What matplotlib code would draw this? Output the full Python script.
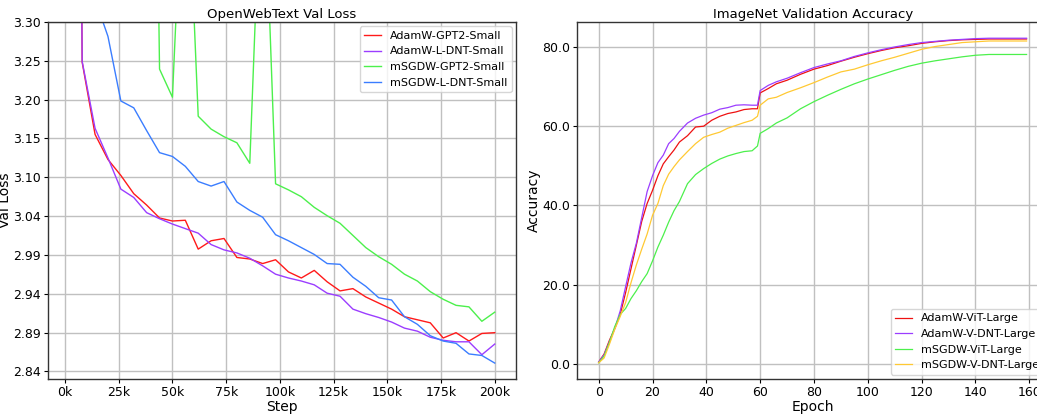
import numpy as np
import matplotlib
matplotlib.use("Agg")
import matplotlib.pyplot as plt
from matplotlib.ticker import FuncFormatter, FormatStrFormatter, MultipleLocator

plt.rcParams["font.family"] = ["DejaVu Sans"]

# --- OpenWebText val loss (steps every 6k, ending at 200k) ---
steps = [2000, 8000, 14000, 20000, 26000, 32000, 38000, 44000, 50000, 56000,
         62000, 68000, 74000, 80000, 86000, 92000, 98000, 104000, 110000, 116000,
         122000, 128000, 134000, 140000, 146000, 152000, 158000, 164000, 170000,
         176000, 182000, 188000, 194000, 200000]

adamw_gpt2 = [5.50, 3.247, 3.152, 3.119, 3.098, 3.074, 3.059, 3.042, 3.038, 3.039,
              3.001, 3.012, 3.015, 2.990, 2.988, 2.982, 2.987, 2.971, 2.963, 2.973,
              2.958, 2.946, 2.949, 2.938, 2.930, 2.922, 2.912, 2.908, 2.904,
              2.884, 2.891, 2.880, 2.890, 2.891]
adamw_ldnt = [5.50, 3.248, 3.160, 3.121, 3.080, 3.069, 3.049, 3.041, 3.034, 3.028,
              3.022, 3.007, 3.000, 2.996, 2.989, 2.979, 2.968, 2.963, 2.959, 2.954,
              2.943, 2.939, 2.922, 2.916, 2.911, 2.905, 2.897, 2.893, 2.885,
              2.881, 2.879, 2.879, 2.862, 2.876]
msgdw_gpt2 = [7.50, 5.80, 5.20, 4.90, 4.70, 4.60, 4.50, 3.238, 3.201, 3.580,
              3.176, 3.159, 3.149, 3.141, 3.114, 3.560, 3.087, 3.079, 3.070, 3.056,
              3.045, 3.035, 3.019, 3.003, 2.991, 2.981, 2.968, 2.959, 2.945,
              2.935, 2.927, 2.925, 2.906, 2.918]
msgdw_ldnt = [6.00, 3.620, 3.330, 3.281, 3.196, 3.187, 3.157, 3.128, 3.123, 3.110,
              3.090, 3.084, 3.090, 3.063, 3.052, 3.043, 3.020, 3.012, 3.003, 2.994,
              2.982, 2.981, 2.964, 2.952, 2.937, 2.934, 2.912, 2.902, 2.887,
              2.880, 2.877, 2.863, 2.861, 2.851]

# --- ImageNet validation accuracy ---
epochs = [0, 2, 4, 6, 8, 10, 12, 14, 16, 18, 20, 22, 24, 26, 28, 30, 33, 36, 39,
          42, 45, 48, 51, 54, 57, 59, 60, 63, 66, 70, 75, 80, 85, 90, 95, 100,
          105, 110, 115, 120, 125, 130, 135, 140, 145, 150, 155, 159]

adamw_vit = [0.5, 2.5, 6.0, 9.0, 12.5, 18.0, 24.0, 30.0, 36.0, 40.5, 43.8, 47.5,
             50.5, 52.3, 54.0, 56.0, 57.6, 59.8, 60.0, 61.5, 62.5, 63.2, 63.6,
             64.2, 64.4, 64.4, 68.4, 69.5, 70.7, 71.6, 73.1, 74.4, 75.3, 76.4,
             77.4, 78.3, 79.1, 79.8, 80.3, 80.9, 81.3, 81.6, 81.8, 81.9, 82.0,
             82.0, 82.0, 82.0]
adamw_vdnt = [0.5, 2.3, 5.6, 9.0, 13.4, 19.5, 25.5, 30.5, 37.0, 43.5, 47.5, 50.8,
              52.7, 55.6, 56.9, 58.7, 60.8, 62.0, 62.8, 63.4, 64.3, 64.7, 65.3,
              65.4, 65.3, 65.3, 69.0, 70.3, 71.2, 72.1, 73.5, 74.8, 75.7, 76.5,
              77.6, 78.5, 79.3, 80.0, 80.6, 81.1, 81.4, 81.7, 81.9, 82.1, 82.2,
              82.2, 82.2, 82.2]
msgdw_vit = [0.3, 2.0, 5.5, 9.5, 12.5, 14.0, 16.5, 18.5, 20.8, 22.8, 26.0, 29.5,
             32.5, 35.8, 38.7, 41.0, 45.5, 47.8, 49.3, 50.6, 51.7, 52.5, 53.1,
             53.6, 53.8, 55.0, 58.2, 59.4, 60.8, 62.1, 64.4, 66.2, 67.8, 69.3,
             70.7, 71.9, 73.0, 74.1, 75.1, 75.9, 76.5, 77.0, 77.5, 77.9, 78.1,
             78.1, 78.1, 78.1]
msgdw_vdnt = [0.3, 1.5, 5.0, 8.8, 12.0, 15.5, 20.5, 25.0, 29.0, 32.8, 37.5, 40.5,
              45.0, 47.9, 49.8, 51.5, 53.6, 55.6, 57.2, 57.9, 58.5, 59.5, 60.2,
              60.9, 61.5, 62.5, 65.3, 66.9, 67.3, 68.5, 69.7, 71.0, 72.4, 73.7,
              74.4, 75.5, 76.5, 77.4, 78.4, 79.4, 80.1, 80.6, 81.1, 81.3, 81.5,
              81.5, 81.5, 81.5]

RED = "#ff1a1a"
PURPLE = "#9b3dff"
GREEN = "#4cf04c"
BLUE = "#3a7dff"
GOLD = "#ffc933"


def style_axes(ax):
    ax.grid(True, color="#c0c0c0", linewidth=1.0)
    ax.set_axisbelow(True)
    for sp in ax.spines.values():
        sp.set_color("#333333")
        sp.set_linewidth(1.0)
    ax.tick_params(labelsize=9, length=3, pad=2)


fig = plt.figure(figsize=(10.37, 4.15), dpi=100)

# left panel
ax1 = fig.add_axes([0.0463, 0.0867, 0.4513, 0.8603])
ax1.plot(steps, adamw_gpt2, color=RED, lw=1.0, label="AdamW-GPT2-Small")
ax1.plot(steps, adamw_ldnt, color=PURPLE, lw=1.0, label="AdamW-L-DNT-Small")
ax1.plot(steps, msgdw_gpt2, color=GREEN, lw=1.0, label="mSGDW-GPT2-Small")
ax1.plot(steps, msgdw_ldnt, color=BLUE, lw=1.0, label="mSGDW-L-DNT-Small")
ax1.set_ylim(2.83, 3.30)
ax1.set_yticks(np.linspace(2.84, 3.30, 10))
ax1.yaxis.set_major_formatter(FormatStrFormatter("%.2f"))
ax1.xaxis.set_major_locator(MultipleLocator(25000))
ax1.xaxis.set_major_formatter(FuncFormatter(lambda v, p: f"{int(round(v / 1000))}k"))
ax1.set_xlabel("Step", fontsize=10, labelpad=1)
ax1.set_ylabel("Val Loss", fontsize=10)
ax1.yaxis.set_label_coords(-0.076, 0.5)
ax1.set_title("OpenWebText Val Loss", fontsize=9.5, pad=3)
style_axes(ax1)
ax1.legend(loc="upper right", fontsize=8, handlelength=1.5, borderaxespad=0.4)

# right panel
ax2 = fig.add_axes([0.5567, 0.0867, 0.4539, 0.8603])
ax2.plot(epochs, adamw_vit, color="#ee1111", lw=0.9, label="AdamW-ViT-Large")
ax2.plot(epochs, adamw_vdnt, color=PURPLE, lw=0.9, label="AdamW-V-DNT-Large")
ax2.plot(epochs, msgdw_vit, color=GREEN, lw=0.9, label="mSGDW-ViT-Large")
ax2.plot(epochs, msgdw_vdnt, color=GOLD, lw=0.9, label="mSGDW-V-DNT-Large")
ax2.set_yticks([0, 20, 40, 60, 80])
ax2.yaxis.set_major_formatter(FormatStrFormatter("%.1f"))
ax2.xaxis.set_major_locator(MultipleLocator(20))
ax2.set_xlabel("Epoch", fontsize=10, labelpad=1)
ax2.set_ylabel("Accuracy", fontsize=10)
ax2.yaxis.set_label_coords(-0.077, 0.5)
ax2.set_title("ImageNet Validation Accuracy", fontsize=9.5, pad=3)
style_axes(ax2)
ax2.legend(loc="lower right", fontsize=8, handlelength=1.5, borderaxespad=0.4)

fig.savefig("out.png", dpi=100)
